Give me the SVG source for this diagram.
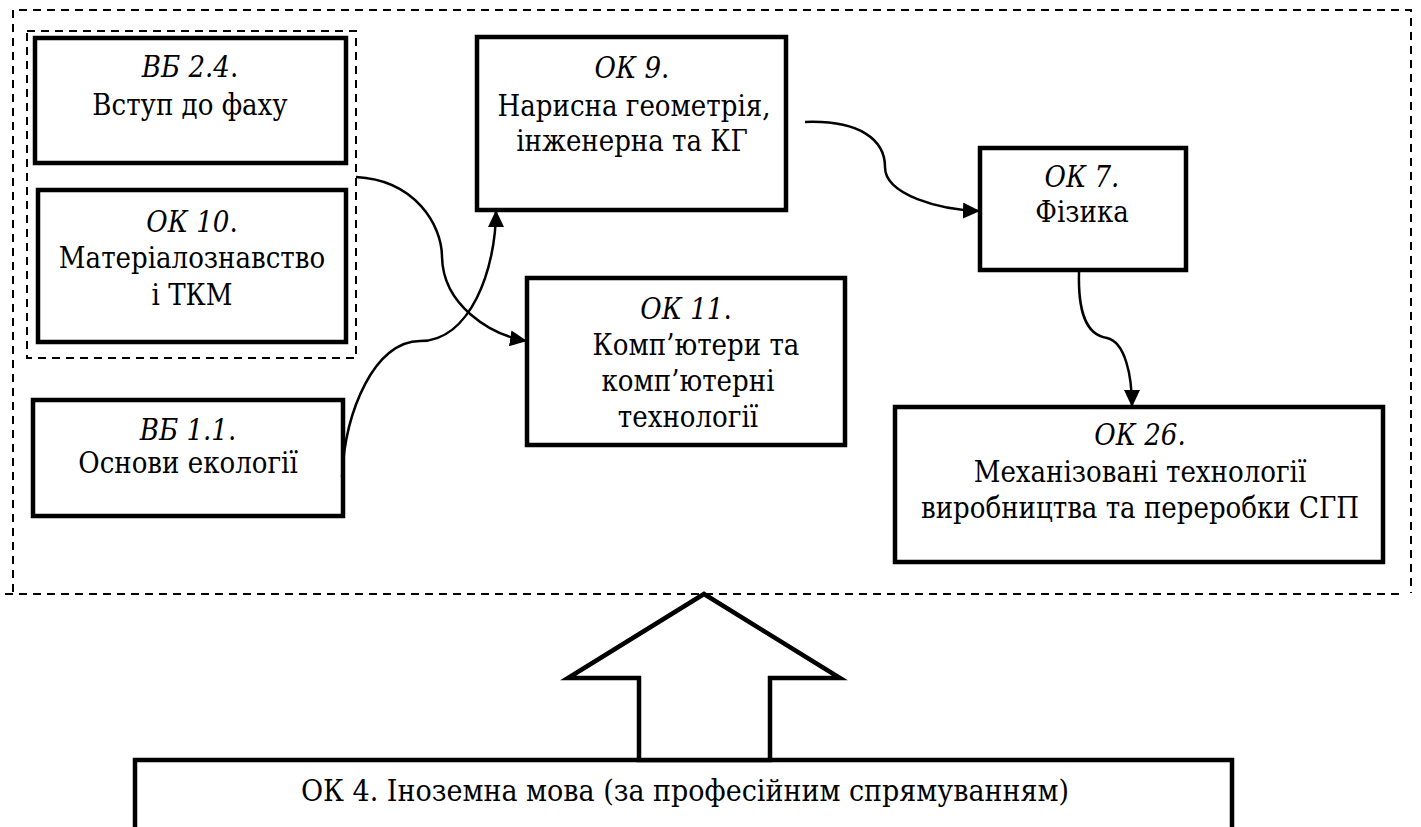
<svg xmlns="http://www.w3.org/2000/svg" width="1421" height="827" viewBox="0 0 1421 827">
<style>
  .box { fill: #fff; stroke: #000; stroke-width: 4.5; }
  .dash { fill: none; stroke: #000; stroke-width: 2; stroke-dasharray: 8 6; }
  .conn { fill: none; stroke: #000; stroke-width: 2.5; marker-end: url(#arr); }
  text { font-family: "DejaVu Serif", "Liberation Serif", serif; font-stretch: condensed; font-size: 29px; fill: #000; text-anchor: middle; }
  .it { font-style: italic; }
  .big { font-size: 30px; }
</style>
<defs>
  <marker id="arr" markerUnits="userSpaceOnUse" markerWidth="18" markerHeight="16" refX="17" refY="8" orient="auto">
    <path d="M0,0 L17,8 L0,16 z" fill="#000"/>
  </marker>
</defs>
<rect width="1421" height="827" fill="#fff"/>

<g id="frames">
  <path class="dash" d="M13,592 L13,10 L1411,10 L1411,593"/>
  <path class="dash" d="M5,594 L1402,594"/>
  <rect class="dash" x="27" y="31" width="329" height="327"/>
</g>

<g id="node-vb24">
  <rect class="box" x="35" y="38" width="311" height="125"/>
  <text x="190" y="77"><tspan class="it">ВБ 2.4</tspan>.</text>
  <text x="190" y="115">Вступ до фаху</text>
</g>

<g id="node-ok10">
  <rect class="box" x="38" y="190" width="308" height="152"/>
  <text x="192" y="232"><tspan class="it">ОК 10</tspan>.</text>
  <text x="192" y="268">Матеріалознавство</text>
  <text x="192" y="305">і ТКМ</text>
</g>

<g id="node-vb11">
  <rect class="box" x="33" y="400" width="310" height="116"/>
  <text x="188" y="440"><tspan class="it">ВБ 1.1</tspan>.</text>
  <text x="188" y="473">Основи екології</text>
</g>

<g id="node-ok9">
  <rect class="box" x="477" y="37" width="309" height="173"/>
  <text x="632" y="78"><tspan class="it">ОК 9</tspan>.</text>
  <text x="634" y="116">Нарисна геометрія,</text>
  <text x="632" y="151">інженерна та КГ</text>
</g>

<g id="node-ok11">
  <rect class="box" x="527" y="278" width="318" height="167"/>
  <text x="686" y="319"><tspan class="it">ОК 11</tspan>.</text>
  <text x="696" y="355">Комп’ютери та</text>
  <text x="688" y="391">комп’ютерні</text>
  <text x="688" y="427">технології</text>
</g>

<g id="node-ok7">
  <rect class="box" x="980" y="148" width="206" height="122"/>
  <text x="1082" y="187"><tspan class="it">ОК 7.</tspan></text>
  <text x="1082" y="222">Фізика</text>
</g>

<g id="node-ok26">
  <rect class="box" x="895" y="407" width="488" height="155"/>
  <text x="1140" y="445"><tspan class="it">ОК 26.</tspan></text>
  <text x="1140" y="482">Механізовані технології</text>
  <text x="1140" y="518">виробництва та переробки СГП</text>
</g>

<g id="node-ok4">
  <rect class="box" x="135" y="760" width="1097" height="90"/>
  <text class="big" x="685" y="801">ОК 4. Іноземна мова (за професійним спрямуванням)</text>
</g>

<g id="big-arrow">
  <polygon points="704,594 840,678 770,678 770,760 639,760 639,678 568,678" fill="#fff" stroke="#000" stroke-width="4.5" stroke-linejoin="miter"/>
</g>

<g id="connectors">
  <path class="conn" d="M356,177 C415,180 442,225 442,257 C443,305 490,335 527,341"/>
  <path class="conn" d="M342,477 C345,410 375,341 420,341 C470,341 496,270 496,210"/>
  <path class="conn" d="M805,122 C860,120 885,140 885,167 C885,195 940,210 980,211"/>
  <path class="conn" d="M1079,272 C1078,310 1085,335 1107,338 C1125,342 1132,375 1132,407"/>
</g>
</svg>
